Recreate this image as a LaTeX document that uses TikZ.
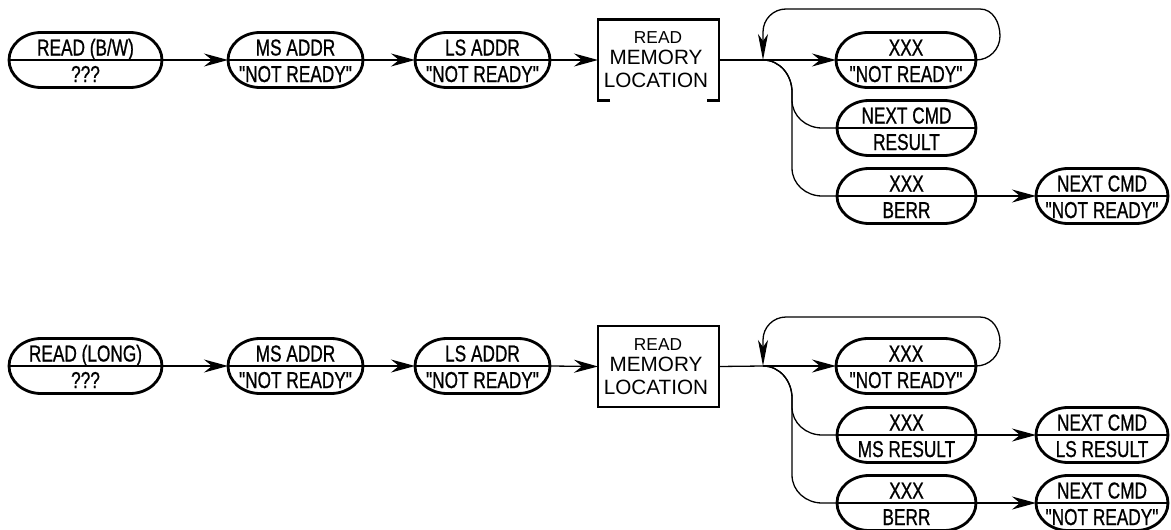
\documentclass[tikz,border=0pt]{standalone}
\usepackage{fontspec}
\newfontfamily\ovfont[FakeStretch=0.75,FakeBold=0.8]{Liberation Sans}
\newfontfamily\bxfont{Liberation Sans}
\usetikzlibrary{arrows.meta,calc}
\tikzset{
 ovalline/.style={line width=2.8pt},
 conn/.style={line width=1.3pt},
 arr/.style={conn,-{Stealth[length=24pt,width=13pt,inset=8pt]}},
 looparr/.style={conn,-{Stealth[length=26pt,width=10pt,inset=7pt]}},
 boxline/.style={line width=2.8pt},
 ovtext/.style={inner sep=0pt,anchor=base,font=\ovfont\fontsize{23}{26}\selectfont},
 bigtext/.style={inner sep=0pt,anchor=base,font=\bxfont\fontsize{20.7}{24}\selectfont},
 smtext/.style={inner sep=0pt,anchor=base,font=\bxfont\fontsize{17.3}{20}\selectfont},
 holder/.style={inner sep=0pt,outer sep=0pt,draw=none},
}
\newcommand\ovl[6]{%
 \node[holder,minimum width={(#3-#2)*1pt},minimum height=55pt] (#1) at ({(#2+#3)/2},#4) {};
 \draw[ovalline] ([xshift=32pt]#1.north west) -- ([xshift=-32pt]#1.north east) arc[start angle=90,end angle=-90,x radius=32pt,y radius=27.5pt] -- ([xshift=32pt]#1.south west) arc[start angle=270,end angle=90,x radius=32pt,y radius=27.5pt] -- cycle;
 \draw[conn] (#1.west) -- (#1.east);
 \node[ovtext] (#1-u) at ({(#2+#3)/2},{#4-4.5}) {#5};
 \node[ovtext] (#1-l) at ({(#2+#3)/2},{#4+22}) {#6};
}
\begin{document}
\begin{tikzpicture}[x=1pt,y=-1pt]
\useasboundingbox (0,0) rectangle (1171,530);
% ---------- top row ----------
\ovl{a1}{9}{162}{60}{READ (B/W)}{???}
\ovl{a2}{228}{363}{60}{MS ADDR}{"NOT READY"}
\ovl{a3}{415}{550}{60}{LS ADDR}{"NOT READY"}
\node[holder,minimum width=121pt,minimum height=81pt] (m1) at (658.5,60) {};
\draw[boxline] ([xshift=12pt]m1.south west) -- (m1.south west) -- (m1.north west) -- (m1.north east) -- (m1.south east) -- ([xshift=-12pt]m1.south east);
\node[smtext] (m1-a) at (658,43) {READ};
\node[bigtext] (m1-b) at (656,64) {MEMORY};
\node[bigtext] (m1-c) at (656,87) {LOCATION};
\coordinate (j1) at (763,60);
\ovl{b1}{836}{976}{60}{XXX}{"NOT READY"}
\ovl{b2}{837}{976}{128}{NEXT CMD}{RESULT}
\ovl{b3}{837}{976}{196}{XXX}{BERR}
\ovl{b4}{1036}{1168}{196}{NEXT CMD}{"NOT READY"}
\draw[arr] (a1.east) -- (a2.west);
\draw[arr] (a2.east) -- (a3.west);
\draw[arr] (a3.east) -- (m1.west);
\draw[conn] (m1.east) -- (j1);
\draw[arr] (j1) -- (b1.west);
\draw[conn] (j1) to[out=0,in=90] (792,92) -- (792,100) to[out=-90,in=180] (822,128) -- (b2.west);
\draw[conn] (j1) to[out=0,in=90] (792,92) -- (792,168) to[out=-90,in=180] (822,196) -- (b3.west);
\draw[arr] (b3.east) -- (b4.west);
\draw[looparr] (b1.east) to[out=0,in=-90] (1000,36) to[out=90,in=0] (980,9) -- (786,9) to[out=180,in=90] (763,32) -- (j1);
% ---------- bottom row ----------
\ovl{c1}{9}{162}{366}{READ (LONG)}{???}
\ovl{c2}{228}{363}{366}{MS ADDR}{"NOT READY"}
\ovl{c3}{415}{550}{366}{LS ADDR}{"NOT READY"}
\node[holder,minimum width=121pt,minimum height=81pt] (m2) at (658.5,366.5) {};
\draw[boxline] (m2.south west) rectangle (m2.north east);
\node[smtext] (m2-a) at (658,350) {READ};
\node[bigtext] (m2-b) at (656,371) {MEMORY};
\node[bigtext] (m2-c) at (656,394) {LOCATION};
\coordinate (j2) at (763,366);
\ovl{d1}{836}{976}{366}{XXX}{"NOT READY"}
\ovl{d2}{837}{976}{435}{XXX}{MS RESULT}
\ovl{d3}{837}{976}{503}{XXX}{BERR}
\ovl{d4}{1036}{1168}{435}{NEXT CMD}{LS RESULT}
\ovl{d5}{1036}{1168}{503}{NEXT CMD}{"NOT READY"}
\draw[arr] (c1.east) -- (c2.west);
\draw[arr] (c2.east) -- (c3.west);
\draw[arr] (c3.east) -- (m2.west);
\draw[conn] (m2.east) -- (j2);
\draw[arr] (j2) -- (d1.west);
\draw[conn] (j2) to[out=0,in=90] (792,398) -- (792,407) to[out=-90,in=180] (822,435) -- (d2.west);
\draw[conn] (j2) to[out=0,in=90] (792,398) -- (792,475) to[out=-90,in=180] (822,503) -- (d3.west);
\draw[arr] (d2.east) -- (d4.west);
\draw[arr] (d3.east) -- (d5.west);
\draw[looparr] (d1.east) to[out=0,in=-90] (1000,342) to[out=90,in=0] (980,317) -- (786,317) to[out=180,in=90] (763,340) -- (j2);
\end{tikzpicture}
\end{document}
